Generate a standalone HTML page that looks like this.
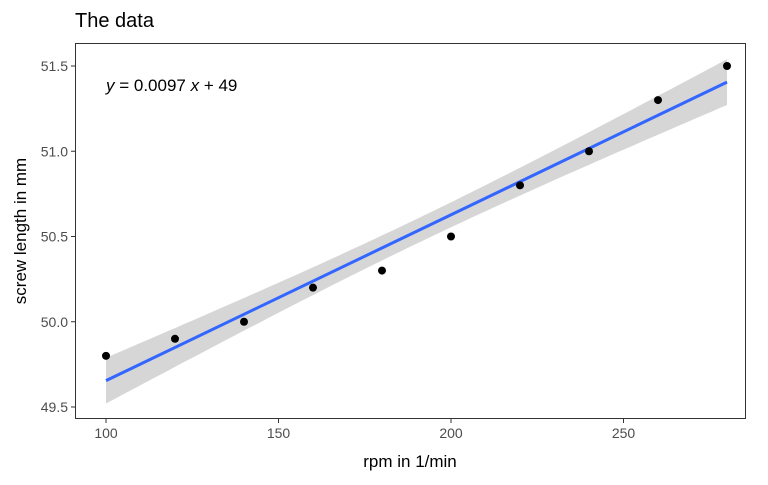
<!DOCTYPE html>
<html><head><meta charset="utf-8">
<style>
body{margin:0;background:#fff;font-family:"Liberation Sans",sans-serif;}
svg text{font-family:"Liberation Sans",sans-serif;}
</style></head>
<body>
<svg width="768" height="480" viewBox="0 0 768 480" xmlns="http://www.w3.org/2000/svg">
<rect width="768" height="480" fill="#fff"/>
<text x="75" y="27" font-size="20" fill="#000">The data</text>
<g id="plot"></g>
<rect x="75.5" y="43.5" width="670" height="375" fill="none" stroke="#333" stroke-width="1"/>
<text x="106" y="91" font-size="17" fill="#000"><tspan font-style="italic">y</tspan> = 0.0097 <tspan font-style="italic">x</tspan> + 49</text>
<text x="410" y="467" font-size="17" text-anchor="middle" fill="#000">rpm in 1/min</text>
<text transform="translate(26,231) rotate(-90)" font-size="17" text-anchor="middle" fill="#000">screw length in mm</text>
</svg>
<script>
const xs=[100,120,140,160,180,200,220,240,260,280];
const ys=[49.8,49.9,50.0,50.2,50.3,50.5,50.8,51.0,51.3,51.5];
const xTicks=[100,150,200,250];
const yTicks=[49.5,50.0,50.5,51.0,51.5];
const yTickLabels=["49.5","50.0","50.5","51.0","51.5"];
const sx=v=>106+(v-100)*(621/180);
const sy=v=>407-(v-49.5)*(341/2);
const NS="http://www.w3.org/2000/svg";
const g=document.getElementById('plot');
function mk(t,a){const e=document.createElementNS(NS,t);for(const k in a)e.setAttribute(k,a[k]);g.appendChild(e);return e;}
const n=xs.length;
const mx=xs.reduce((a,b)=>a+b)/n, my=ys.reduce((a,b)=>a+b)/n;
let sxx=0,sxy=0;xs.forEach((x,i)=>{sxx+=(x-mx)**2;sxy+=(x-mx)*(ys[i]-my);});
const b=sxy/sxx,a=my-b*mx;
let sse=0;xs.forEach((x,i)=>{sse+=(ys[i]-a-b*x)**2;});
const s=Math.sqrt(sse/(n-2)),t=2.306;
const x0=Math.min(...xs),x1=Math.max(...xs);
let up=[],lo=[];
for(let k=0;k<=80;k++){const x=x0+(x1-x0)*k/80;const f=a+b*x;const se=s*Math.sqrt(1/n+(x-mx)**2/sxx);
up.push(sx(x).toFixed(1)+','+sy(f+t*se).toFixed(1));lo.unshift(sx(x).toFixed(1)+','+sy(f-t*se).toFixed(1));}
// axis ticks
yTicks.forEach((v,i)=>{
 const l=mk('line',{x1:71,x2:75,y1:sy(v),y2:sy(v),stroke:'#333'});
 
 
 const tx=mk('text',{x:68,y:sy(v)+5,'font-size':14,'text-anchor':'end',fill:'#4d4d4d'});
 tx.textContent=yTickLabels[i];
 
 
});
xTicks.forEach(v=>{
 const l=mk('line',{x1:sx(v),x2:sx(v),y1:419,y2:423,stroke:'#333'});
 
 
 const tx=mk('text',{x:sx(v),y:438,'font-size':14,'text-anchor':'middle',fill:'#4d4d4d'});
 tx.textContent=v;
 
 
});
const band=mk('polygon',{points:up.concat(lo).join(' '),fill:'#999','fill-opacity':0.4});


const line=mk('line',{x1:sx(x0),y1:sy(a+b*x0),x2:sx(x1),y2:sy(a+b*x1),stroke:'#3366FF','stroke-width':3});


xs.forEach((x,i)=>{
 const c=mk('circle',{cx:sx(x),cy:sy(ys[i]),r:4,fill:'#000'});
 
 
});
</script>
</body></html>
